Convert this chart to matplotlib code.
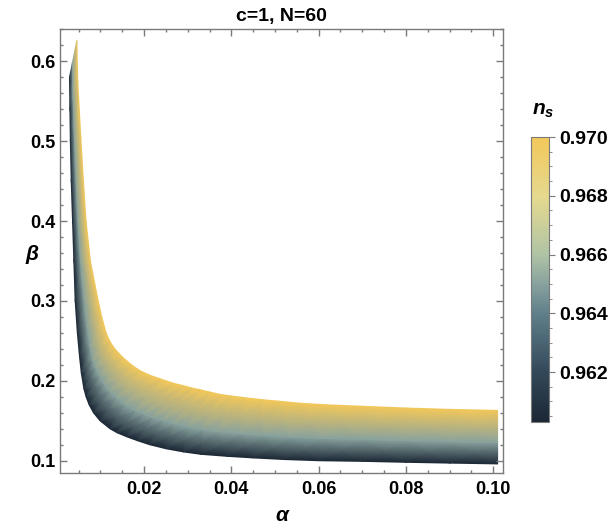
import numpy as np
import matplotlib
matplotlib.use("Agg")
import matplotlib.pyplot as plt
from matplotlib.colors import LinearSegmentedColormap
from matplotlib.ticker import MultipleLocator, FixedLocator

plt.rcParams['font.family'] = ['Liberation Sans', 'DejaVu Sans']
plt.rcParams['font.weight'] = 'bold'
plt.rcParams['mathtext.fontset'] = 'custom'
plt.rcParams['mathtext.bfit'] = 'Liberation Sans:bold:italic'
plt.rcParams['mathtext.it'] = 'Liberation Sans:italic:bold'

# borda inferior da faixa (n_s = 0.9603)
alpha_baixo = [0.0029, 0.0030, 0.0031, 0.0033, 0.0036, 0.0039, 0.0042, 0.0047,
               0.0052, 0.0056, 0.0059, 0.0062, 0.0067, 0.0074, 0.0084, 0.0099,
               0.0122, 0.0138, 0.0160, 0.0185, 0.0213, 0.0250, 0.0290, 0.0330,
               0.0390, 0.0450, 0.0520, 0.0600, 0.0700, 0.0800, 0.0900, 0.1010]
beta_baixo = [0.580, 0.540, 0.500, 0.450, 0.400, 0.350, 0.300, 0.260,
              0.230, 0.210, 0.200, 0.190, 0.180, 0.170, 0.160, 0.150,
              0.140, 0.135, 0.130, 0.125, 0.120, 0.115, 0.111, 0.108,
              0.1055, 0.1035, 0.1015, 0.1000, 0.0992, 0.0980, 0.0970, 0.0960]

# curva intermediaria (n_s = 0.965)
alpha_meio = [0.00358, 0.00372, 0.00406, 0.00442, 0.00484, 0.00542, 0.00624, 0.00694,
              0.00764, 0.00824, 0.00886, 0.00972, 0.01086, 0.01204, 0.01356, 0.01554,
              0.0180, 0.01988, 0.0220, 0.02422, 0.02678, 0.0300, 0.0334, 0.0370,
              0.0422, 0.0474, 0.05348, 0.0608, 0.0700, 0.0800, 0.0900, 0.1010]
beta_meio = [0.5984, 0.554, 0.502, 0.450, 0.400, 0.350, 0.302, 0.268,
             0.242, 0.2256, 0.216, 0.206, 0.196, 0.1872, 0.1788, 0.1708,
             0.1628, 0.1586, 0.1544, 0.1506, 0.1464, 0.1422, 0.1390, 0.1364,
             0.1339, 0.1319, 0.1297, 0.1280, 0.1268, 0.1252, 0.1239, 0.1228]

# borda superior da faixa (n_s = 0.970)
alpha_cima = [0.0046, 0.0048, 0.0055, 0.0061, 0.0067, 0.0077, 0.0093, 0.0103,
              0.0113, 0.0122, 0.0133, 0.0150, 0.0171, 0.0190, 0.0213, 0.0240,
              0.0267, 0.0290, 0.0310, 0.0328, 0.0350, 0.0375, 0.0400, 0.0430,
              0.0470, 0.0510, 0.0557, 0.0620, 0.0700, 0.0800, 0.0900, 0.1010]
beta_cima = [0.626, 0.575, 0.505, 0.450, 0.400, 0.350, 0.305, 0.280,
             0.260, 0.249, 0.240, 0.230, 0.220, 0.213, 0.207, 0.202,
             0.197, 0.194, 0.191, 0.189, 0.186, 0.183, 0.181, 0.179,
             0.1765, 0.1745, 0.172, 0.170, 0.1682, 0.1660, 0.1643, 0.1630]

ns_niveis = [0.9603, 0.965, 0.970]

# cores da escala (estilo StarryNight)
cores = [(0.00, '#1b2735'), (0.175, '#33495a'), (0.38, '#5f7f8a'),
         (0.485, '#88a29e'), (0.59, '#b0c4a5'), (0.79, '#e5d98f'), (1.00, '#f3c85a')]
cmap = LinearSegmentedColormap.from_list('starry', cores)

fig = plt.figure(figsize=(6.11, 5.25), dpi=100)
ax = fig.add_axes([0.0987, 0.0996, 0.7250, 0.8446])

X = np.array([alpha_baixo, alpha_meio, alpha_cima])
Y = np.array([beta_baixo, beta_meio, beta_cima])
C = np.array([[ns] * len(alpha_baixo) for ns in ns_niveis])

malha = ax.pcolormesh(X, Y, C, shading='gouraud', cmap=cmap,
                      vmin=0.9603, vmax=0.970, rasterized=True)

ax.set_xlim(0.0008, 0.1023)
ax.set_ylim(0.085, 0.640)

ax.xaxis.set_major_locator(FixedLocator([0.02, 0.04, 0.06, 0.08, 0.10]))
ax.xaxis.set_minor_locator(MultipleLocator(0.005))
ax.yaxis.set_major_locator(FixedLocator([0.1, 0.2, 0.3, 0.4, 0.5, 0.6]))
ax.yaxis.set_minor_locator(MultipleLocator(0.02))
ax.set_xticklabels(['0.02', '0.04', '0.06', '0.08', '0.10'])
ax.set_yticklabels(['0.1', '0.2', '0.3', '0.4', '0.5', '0.6'])

cinza = '#7a7a7a'
for s in ax.spines.values():
    s.set_color(cinza)
    s.set_linewidth(1.0)
ax.tick_params(which='both', direction='in', top=True, right=True, color=cinza,
               labelsize=13, width=1.0)
ax.tick_params(which='major', length=5)
ax.tick_params(which='minor', length=2.5)
ax.tick_params(axis='x', pad=6)

ax.set_title('c=1, N=60', fontsize=14, fontweight='bold', pad=6)
fig.text(0.462, 0.018, 'α', fontsize=15, fontweight='bold', style='italic',
         ha='center', va='center')
fig.text(0.052, 0.515, 'β', fontsize=15, fontweight='bold', style='italic',
         ha='center', va='center')

# barra de cores
cax = fig.add_axes([0.869, 0.1962, 0.0295, 0.5428])
cb = fig.colorbar(malha, cax=cax)
cb.outline.set_edgecolor(cinza)
cb.set_ticks([0.962, 0.964, 0.966, 0.968, 0.970])
cb.set_ticklabels(['0.962', '0.964', '0.966', '0.968', '0.970'])
cax.yaxis.set_minor_locator(MultipleLocator(0.0005))
cax.tick_params(which='both', direction='out', color=cinza, labelsize=14)
cax.tick_params(which='major', length=4)
cax.tick_params(which='minor', length=2)
fig.text(0.889, 0.79, r'$\mathbfit{n}_\mathbfit{s}$', fontsize=15,
         ha='center', va='center')

fig.savefig('out.png', dpi=100)
